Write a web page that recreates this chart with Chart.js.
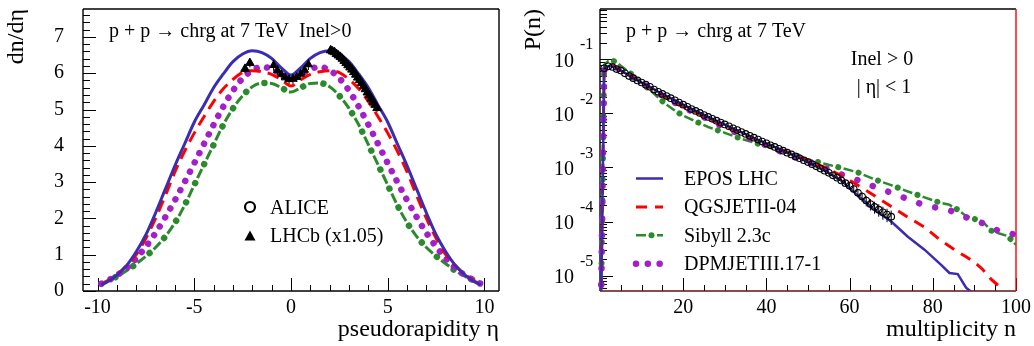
<!DOCTYPE html>
<html>
<head>
<meta charset="utf-8">
<script src="https://cdn.jsdelivr.net/npm/chart.js@4.4.1/dist/chart.umd.min.js"></script>
<style>
  body { margin: 0; background: #fff; }
  #wrap { position: relative; width: 1034px; height: 346px; }
  canvas { position: absolute; top: 0; }
  #etaChart { left: 0; }
  #multChart { left: 517px; }
</style>
</head>
<body>
<div id="wrap">
  <canvas id="etaChart" width="517" height="346"></canvas>
  <canvas id="multChart" width="517" height="346"></canvas>
</div>
<script>
// ---- left panel: dn/deta vs pseudorapidity ----
const etaGrid = [-9.8,-9.5,-9,-8.5,-8,-7.5,-7,-6.5,-6,-5.5,-5,-4.5,-4,-3.5,-3,-2.5,-2,-1.5,-1,-0.5,0,0.5,1,1.5,2,2.5,3,3.5,4,4.5,5,5.5,6,6.5,7,7.5,8,8.5,9,9.5,9.8];
const eposEta = [0.17,0.25,0.44,0.70,1.08,1.55,2.15,2.80,3.45,4.05,4.65,5.12,5.60,5.98,6.32,6.53,6.62,6.57,6.41,6.15,5.95,6.15,6.41,6.57,6.62,6.53,6.32,5.98,5.60,5.12,4.65,4.05,3.45,2.80,2.15,1.55,1.08,0.70,0.44,0.25,0.17];
const qgsEta  = [0.18,0.27,0.45,0.70,1.00,1.45,2.00,2.62,3.28,3.85,4.35,4.80,5.22,5.57,5.83,6.02,6.07,6.04,5.97,5.82,5.65,5.82,5.97,6.04,6.07,6.02,5.83,5.57,5.22,4.80,4.35,3.85,3.28,2.62,2.00,1.45,1.00,0.70,0.45,0.27,0.18];
const sibEta  = [0.20,0.28,0.40,0.56,0.75,0.96,1.20,1.50,1.88,2.36,2.92,3.48,4.03,4.58,5.03,5.38,5.63,5.73,5.72,5.60,5.48,5.60,5.72,5.73,5.63,5.38,5.03,4.58,4.03,3.48,2.92,2.36,1.88,1.50,1.20,0.96,0.75,0.56,0.40,0.28,0.20];
const dpmEta  = [0.20,0.28,0.43,0.63,0.90,1.22,1.60,2.03,2.50,3.00,3.52,4.05,4.58,5.08,5.52,5.86,6.08,6.17,6.12,5.97,5.87,5.97,6.12,6.17,6.08,5.86,5.52,5.08,4.58,4.05,3.52,3.00,2.50,2.03,1.60,1.22,0.90,0.63,0.43,0.28,0.20];

const aliceEta = [-0.9,-0.7,-0.5,-0.3,-0.1,0.1,0.3,0.5,0.7,0.9];
const aliceDnDeta = [6.22,6.08,5.97,5.88,5.83,5.84,5.89,5.98,6.09,6.24];
const aliceDnDetaErr = [0.15,0.14,0.13,0.13,0.13,0.13,0.13,0.13,0.14,0.15];
const lhcbEta = [-2.375,-2.125,2.05,2.15,2.25,2.35,2.45,2.55,2.65,2.75,2.85,2.95,3.05,3.15,3.25,3.35,3.45,3.55,3.65,3.75,3.85,3.95,4.05,4.15,4.25,4.35,4.45];
const lhcbDnDeta = [6.12,6.28,6.63,6.60,6.58,6.53,6.49,6.45,6.40,6.34,6.28,6.22,6.16,6.10,6.03,5.96,5.88,5.81,5.73,5.64,5.56,5.47,5.39,5.30,5.21,5.13,5.04];
const lhcbDnDetaErr = [0.12,0.12,0.1,0.1,0.1,0.1,0.1,0.1,0.1,0.1,0.1,0.1,0.1,0.1,0.1,0.1,0.1,0.1,0.1,0.1,0.1,0.1,0.1,0.1,0.1,0.1,0.1];

const etaTicks = [-10,-5,0,5,10];
const dndetaTicks = [0,1,2,3,4,5,6,7];

// ---- right panel: multiplicity distribution ----
const multN = [0,1,2,3,4,5,6,8,10,12,14,16,18,20,23,26,30,34,38,42,46,50,54,58,62,66,70,74,78,82,84,86,88,90,92,94,96,98,100];
const eposMult = [1e-7,0.066,0.075,0.074,0.068,0.062,0.056,0.0447,0.037,0.031,0.0251,0.0209,0.0174,0.0145,0.0111,0.0086,0.0062,0.00447,0.00324,0.00237,0.00174,0.00126,0.00087,0.000575,0.000302,0.000166,0.0001,5.25e-5,3.02e-5,1.58e-5,1.12e-5,1.07e-5,6.0e-6,4.5e-6,null,null,null,null,null];
const qgsMult  = [1e-7,0.064,0.078,0.077,0.071,0.064,0.058,0.046,0.037,0.030,0.024,0.0195,0.0162,0.0135,0.0105,0.0081,0.0059,0.00427,0.00316,0.0024,0.00182,0.00138,0.001,0.00071,0.000468,0.0003,0.00019,0.00012,7.9e-5,4.4e-5,3.5e-5,2.75e-5,2.24e-5,1.78e-5,1.3e-5,8.6e-6,6.3e-6,4e-6,null];
const sibMult  = [1e-7,0.079,0.093,0.095,0.087,0.076,0.066,0.050,0.037,0.027,0.0195,0.0145,0.0112,0.0091,0.0071,0.0056,0.00437,0.00339,0.00275,0.00219,0.00178,0.00141,0.00117,0.00098,0.00081,0.0006,0.00047,0.00036,0.00028,0.00022,0.000204,0.000166,0.000126,0.000112,0.0001,6.8e-5,6.0e-5,5.4e-5,3.7e-5];
const dpmMult  = [1e-7,0.066,0.073,0.073,0.069,0.063,0.057,0.046,0.0365,0.0295,0.0235,0.0195,0.0158,0.0132,0.010,0.0078,0.0055,0.004,0.00295,0.00219,0.00162,0.00126,0.00098,0.00074,0.00058,0.00044,0.00034,0.00026,0.0002,0.000174,0.000162,0.000138,0.00012,0.000107,9.3e-5,7.9e-5,6.6e-5,6.3e-5,5.6e-5];

const aliceN = [1,2,3,4,5,6,7,8,9,10,11,12,13,14,15,16,17,18,19,20,21,22,23,24,25,26,27,28,29,30,31,32,33,34,35,36,37,38,39,40,41,42,43,44,45,46,47,48,49,50,51,52,53,54,55,56,57,58,59,60,61,62,63,64,65,66,67,68,69,70];
const aliceP = [0.068,0.074,0.072,0.066,0.0617,0.055,0.049,0.0447,0.0407,0.0372,0.0339,0.0309,0.0275,0.0251,0.0229,0.0209,0.0191,0.0174,0.0158,0.0145,0.0132,0.0120,0.0111,0.0102,0.00933,0.00861,0.00794,0.00733,0.00676,0.00624,0.00575,0.00531,0.0049,0.00452,0.00417,0.00385,0.00355,0.00327,0.00302,0.00279,0.00257,0.0024,0.00221,0.00204,0.00188,0.00174,0.0016,0.00148,0.00136,0.00126,0.00115,0.00105,0.000955,0.000871,0.000794,0.000716,0.000646,0.000575,0.000513,0.000457,0.0004,0.00034,0.00029,0.000245,0.00021,0.000186,0.000166,0.000148,0.000135,0.000123];
const alicePRelErr = [0.03,0.03,0.03,0.03,0.03,0.03,0.03,0.03,0.03,0.03,0.03,0.03,0.03,0.03,0.03,0.03,0.03,0.03,0.03,0.03,0.03,0.03,0.03,0.03,0.03,0.03,0.03,0.03,0.03,0.03,0.03,0.03,0.03,0.03,0.03,0.03,0.03,0.03,0.03,0.03,0.03,0.03,0.03,0.03,0.03,0.03,0.03,0.03,0.03,0.03,0.04,0.05,0.05,0.06,0.07,0.08,0.09,0.10,0.12,0.14,0.16,0.18,0.2,0.22,0.24,0.25,0.26,0.27,0.28,0.3];

const multTicks = [20,40,60,80,100];
const probTicks = [1e-1,1e-2,1e-3,1e-4,1e-5];
const probTickExp = ['-1','-2','-3','-4','-5'];

const blue = '#3a2db3', red = '#ff0000', green = '#2b8a2b', violet = '#a21fc9';
const FONT = "'Liberation Serif', 'DejaVu Serif', serif";
Chart.defaults.font.family = FONT;
Chart.defaults.color = '#000';

// ROOT-like frame: box plus inward ticks
function frameTicks(o) {
  return {
    id: 'frameTicks',
    beforeDatasetsDraw(chart) {
      const {ctx, chartArea: a} = chart;
      const xs = chart.scales.x, ys = chart.scales.y;
      ctx.save();
      ctx.strokeStyle = '#000';
      ctx.lineWidth = 1;
      ctx.beginPath();
      const xt = (list, len) => list.forEach(v => { const p = Math.round(xs.getPixelForValue(v)) + 0.5; ctx.moveTo(p, a.bottom); ctx.lineTo(p, a.bottom - len); });
      const yt = (list, len) => list.forEach(v => { const p = Math.round(ys.getPixelForValue(v)) + 0.5; ctx.moveTo(a.left, p); ctx.lineTo(a.left + len, p); });
      xt(o.xMajor, 13); xt(o.xMinor, 6);
      yt(o.yMajor, 13); yt(o.yMinor, 7);
      ctx.stroke();
      const side = (col, x1, y1, x2, y2) => {
        ctx.strokeStyle = col; ctx.lineWidth = 1.4;
        ctx.beginPath(); ctx.moveTo(x1, y1); ctx.lineTo(x2, y2); ctx.stroke();
      };
      side('#000', a.left, a.top, a.right, a.top);
      side('#000', a.left, a.top, a.left, a.bottom);
      side(o.bottomColor || '#000', a.left, a.bottom, a.right, a.bottom);
      side(o.rightColor || '#000', a.right, a.top, a.right, a.bottom);
      ctx.restore();
    }
  };
}

function errorBars(specs) {
  return {
    id: 'errorBars',
    afterDatasetsDraw(chart) {
      const ctx = chart.ctx, ys = chart.scales.y;
      ctx.save();
      ctx.strokeStyle = '#000';
      ctx.lineWidth = 1;
      ctx.beginPath();
      specs.forEach(s => {
        chart.getDatasetMeta(s.index).data.forEach((pt, i) => {
          const v = s.values[i], e = s.rel ? v * s.err[i] : s.err[i];
          ctx.moveTo(pt.x, ys.getPixelForValue(v + e));
          ctx.lineTo(pt.x, ys.getPixelForValue(v - e));
        });
      });
      ctx.stroke();
      ctx.restore();
    }
  };
}

function notes(fn) {
  return { id: 'notes', afterDraw(chart) { const ctx = chart.ctx; ctx.save(); fn(chart, ctx); ctx.restore(); } };
}

function sample(ctx, ds, x1, x2, y, dash) {
  ctx.save();
  ctx.strokeStyle = ds.borderColor;
  ctx.lineWidth = ds.borderWidth;
  ctx.lineCap = ds.borderCapStyle || 'butt';
  ctx.setLineDash(dash || ds.borderDash || []);
  ctx.lineDashOffset = ds.borderDashOffset || 0;
  ctx.beginPath(); ctx.moveTo(x1, y); ctx.lineTo(x2, y); ctx.stroke();
  ctx.restore();
}

const pts = (xs, ys) => xs.map((x, i) => ({x: x, y: ys[i]}));
const fixTicks = list => s => { s.ticks = list.map(v => ({value: v})); };

const minorEtaX = [], minorEtaY = [];
for (let v = -10; v <= 10; v++) if (v % 5) minorEtaX.push(v);
for (let i = 1; i <= 38; i++) if (i % 5) minorEtaY.push(i / 5);

// ---------- left chart ----------
const etaCurve = {pointRadius: 0, cubicInterpolationMode: 'monotone', fill: false};
new Chart(document.getElementById('etaChart'), {
  type: 'line',
  data: {
    datasets: [
      // central points look like small filled triangles in the picture
      {label: 'ALICE', data: pts(aliceEta, aliceDnDeta), showLine: false, pointStyle: 'triangle', pointRadius: 4.5,
       pointBorderWidth: 1, pointBorderColor: '#000', pointBackgroundColor: '#000'},
      {label: 'LHCb (x1.05)', data: pts(lhcbEta, lhcbDnDeta), showLine: false, pointStyle: 'triangle', pointRadius: 5,
       pointBorderWidth: 1, pointBorderColor: '#000', pointBackgroundColor: '#000'},
      Object.assign({label: 'EPOS LHC', data: pts(etaGrid, eposEta), borderColor: blue, borderWidth: 3}, etaCurve),
      Object.assign({label: 'QGSJETII-04', data: pts(etaGrid, qgsEta), borderColor: red, borderWidth: 3, borderDash: [12, 7]}, etaCurve),
      Object.assign({label: 'DPMJETIII.17-1', data: pts(etaGrid, dpmEta), borderColor: violet, borderWidth: 6.5,
       borderDash: [0.01, 10.4], borderCapStyle: 'round'}, etaCurve),
      Object.assign({label: 'Sibyll 2.3c', data: pts(etaGrid, sibEta), borderColor: green, borderWidth: 6.5,
       borderDash: [0.01, 20.99], borderDashOffset: 5.5, borderCapStyle: 'round'}, etaCurve),
      Object.assign({label: 'Sibyll 2.3c', data: pts(etaGrid, sibEta), borderColor: green, borderWidth: 3, borderDash: [10, 11]}, etaCurve)
    ]
  },
  options: {
    responsive: false,
    animation: false,
    layout: {padding: {top: 9, right: 18, left: 0, bottom: 0}},
    plugins: {legend: {display: false}, tooltip: {enabled: false}},
    scales: {
      x: {
        type: 'linear', min: -10.75, max: 10.75,
        afterBuildTicks: fixTicks(etaTicks),
        afterFit: s => { s.height = 55; s.paddingLeft = 0; s.paddingRight = 0; },
        grid: {display: false, drawTicks: false}, border: {display: false},
        ticks: {font: {size: 20}, color: '#000', padding: 5, maxRotation: 0, autoSkip: false},
        title: {display: true, text: 'pseudorapidity \u03b7', align: 'end', font: {size: 24}, color: '#000', padding: {top: 0, bottom: 2}}
      },
      y: {
        type: 'linear', min: 0, max: 7.77,
        afterBuildTicks: fixTicks(dndetaTicks),
        afterFit: s => { s.width = 83; s.paddingTop = 0; s.paddingBottom = 0; },
        grid: {display: false, drawTicks: false}, border: {display: false},
        ticks: {font: {size: 20}, color: '#000', padding: 19},
        title: {display: true, text: 'dn/d\u03b7', align: 'end', font: {size: 24}, color: '#000', padding: {top: 2, bottom: 0}}
      }
    }
  },
  plugins: [
    frameTicks({xMajor: etaTicks, xMinor: minorEtaX, yMajor: dndetaTicks, yMinor: minorEtaY}),
    errorBars([{index: 0, values: aliceDnDeta, err: aliceDnDetaErr}, {index: 1, values: lhcbDnDeta, err: lhcbDnDetaErr}]),
    notes((chart, ctx) => {
      ctx.fillStyle = '#000';
      ctx.font = '20px ' + FONT;
      ctx.textBaseline = 'alphabetic';
      ctx.fillText('p + p \u2192 chrg at 7 TeV  Inel>0', 109, 37);
      ctx.fillText('ALICE', 270, 214);
      ctx.fillText('LHCb (x1.05)', 270, 242);
      ctx.strokeStyle = '#000';
      ctx.lineWidth = 2.2;
      ctx.beginPath(); ctx.arc(250, 207, 5, 0, 2 * Math.PI); ctx.stroke();
      ctx.beginPath(); ctx.moveTo(250, 230.5); ctx.lineTo(255.5, 240.5); ctx.lineTo(244.5, 240.5); ctx.closePath(); ctx.fill();
    })
  ]
});

// ---------- right chart ----------
const multMinorX = [];
for (let v = 5; v < 100; v += 5) if (v % 20) multMinorX.push(v);
const probMinor = [];
for (let d = -6; d <= -1; d++) for (let k = 2; k <= 9; k++) { const v = k * Math.pow(10, d); if (v > 5.2e-6 && v < 0.85) probMinor.push(v); }

const multCurve = {pointRadius: 0, tension: 0, fill: false, clip: {left: 5, top: 0, right: 0, bottom: 0}};
const dsEpos = Object.assign({label: 'EPOS LHC', data: pts(multN, eposMult), borderColor: blue, borderWidth: 2.5}, multCurve);
const dsQgs = Object.assign({label: 'QGSJETII-04', data: pts(multN, qgsMult), borderColor: red, borderWidth: 3, borderDash: [11, 8]}, multCurve);
const dsSibDots = Object.assign({label: 'Sibyll 2.3c', data: pts(multN, sibMult), borderColor: green, borderWidth: 6,
  borderDash: [0.01, 20.99], borderDashOffset: 5.5, borderCapStyle: 'round'}, multCurve);
const dsSibLine = Object.assign({label: 'Sibyll 2.3c', data: pts(multN, sibMult), borderColor: green, borderWidth: 2.5, borderDash: [10, 11]}, multCurve);
const dsDpm = Object.assign({label: 'DPMJETIII.17-1', data: pts(multN, dpmMult), borderColor: violet, borderWidth: 6.5,
  borderDash: [0.01, 16.5], borderCapStyle: 'round'}, multCurve);

new Chart(document.getElementById('multChart'), {
  type: 'line',
  data: {
    datasets: [
      {label: 'ALICE', data: pts(aliceN, aliceP), showLine: false, pointStyle: 'circle', pointRadius: 3.3,
       pointBorderWidth: 1.1, pointBorderColor: '#000', pointBackgroundColor: 'rgba(0,0,0,0)'},
      dsEpos, dsQgs, dsDpm, dsSibDots, dsSibLine
    ]
  },
  options: {
    responsive: false,
    animation: false,
    layout: {padding: {top: 9, right: 18, left: 0, bottom: 0}},
    plugins: {legend: {display: false}, tooltip: {enabled: false}},
    scales: {
      x: {
        type: 'linear', min: 0, max: 100,
        afterBuildTicks: fixTicks(multTicks),
        afterFit: s => { s.height = 55; s.paddingLeft = 0; s.paddingRight = 0; },
        grid: {display: false, drawTicks: false}, border: {display: false},
        ticks: {font: {size: 20}, color: '#000', padding: 5, maxRotation: 0, autoSkip: false},
        title: {display: true, text: 'multiplicity n', align: 'end', font: {size: 24}, color: '#000', padding: {top: 0, bottom: 2}}
      },
      y: {
        type: 'logarithmic', min: 5.2e-6, max: 0.85,
        afterFit: s => { s.width = 83; s.paddingTop = 0; s.paddingBottom = 0; },
        grid: {display: false, drawTicks: false}, border: {display: false},
        ticks: {display: false},
        title: {display: true, text: 'P(n)', align: 'end', font: {size: 24}, color: '#000', padding: {top: 2, bottom: 0}}
      }
    }
  },
  plugins: [
    frameTicks({xMajor: multTicks, xMinor: multMinorX, yMajor: probTicks, yMinor: probMinor, rightColor: red, bottomColor: '#5a1414'}),
    errorBars([{index: 0, values: aliceP, err: alicePRelErr, rel: true}]),
    notes((chart, ctx) => {
      const ys = chart.scales.y;
      ctx.fillStyle = '#000';
      // log axis labels 10^k
      probTicks.forEach((v, i) => {
        const p = ys.getPixelForValue(v);
        ctx.font = '20px ' + FONT;
        ctx.textAlign = 'right'; ctx.textBaseline = 'middle';
        ctx.fillText('10', 57, p + 2);
        ctx.font = '16px ' + FONT;
        ctx.textAlign = 'left';
        ctx.fillText(probTickExp[i], 63, p - 14);
      });
      ctx.font = '20px ' + FONT;
      ctx.textBaseline = 'alphabetic';
      ctx.textAlign = 'left';
      ctx.fillText('p + p \u2192 chrg at 7 TeV', 109, 37);
      ctx.textAlign = 'center';
      ctx.fillText('Inel > 0', 365, 65);
      ctx.fillText('| \u03b7| < 1', 367, 93);
      ctx.textAlign = 'left';
      const rows = [
        {text: 'EPOS LHC', sets: [dsEpos]},
        {text: 'QGSJETII-04', sets: [dsQgs]},
        {text: 'Sibyll 2.3c', sets: [dsSibLine, dsSibDots]},
        {text: 'DPMJETIII.17-1', sets: [dsDpm], dash: [0.01, 11.8]}
      ];
      rows.forEach((r, i) => {
        const base = 185 + i * 28.4;
        r.sets.forEach(ds => sample(ctx, ds, 119, 146, base - 6.5, r.dash));
        ctx.fillText(r.text, 167, base);
      });
    })
  ]
});
</script>
</body>
</html>
